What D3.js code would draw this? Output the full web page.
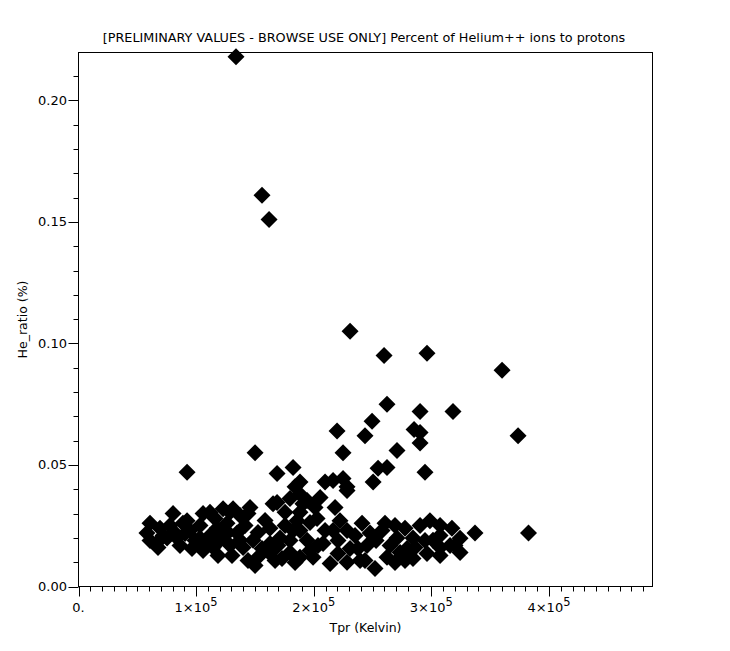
<!DOCTYPE html>
<html>
<head>
<meta charset="utf-8">
<script src="https://cdn.jsdelivr.net/npm/d3@7"></script>
<style>
  html, body { margin: 0; padding: 0; background: #fff; }
  text { font-family: "DejaVu Sans", sans-serif; fill: #000; }
</style>
</head>
<body>
<svg id="chart" width="730" height="651"></svg>
<script>
// Tpr (Kelvin), in thousands of K
const tprK = [
  133.9,156.0,162.0,230.9,259.8,296.3,360.1,373.7,318.4,262.3,
  290.4,249.6,243.6,219.8,285.3,290.4,290.4,270.8,150.1,224.9,
  294.6,92.3,262.3,254.7,250.5,168.8,182.4,188.3,184.1,209.6,
  216.4,224.9,228.3,205.4,194.3,179.8,168.8,145.8,218.1,382.6,
  80.4,60.8,58.2,66.7,75.3,69.3,82.1,67.6,92.3,96.5,
  105.9,105.9,122.9,131.4,144.1,144.1,117.8,114.4,128.8,137.3,
  88.8,94.8,126.3,134.8,148.4,162.8,171.3,182.4,83.8,103.3,
  120.3,139.9,162.8,165.4,152.6,162.8,173.0,179.8,188.3,228.3,
  190.8,202.8,185.8,222.3,241.1,260.6,277.6,228.3,216.4,247.9,
  270.8,284.4,194.3,207.9,230.9,245.3,264.9,279.3,188.3,199.4,
  213.9,228.3,239.4,252.1,262.3,277.6,284.4,298.8,317.5,337.1,
  286.1,296.3,307.4,324.4,315.9,301.4,324.4,307.4,
  103.3,111.8,99.1,116.1,127.1,141.6,152.6,158.6,175.6,169.6,
  179.8,156.0,130.5,118.6,107.6,90.6,77.8,71.9,60.8,86.3,
  137.3,188.3,196.8,209.6,203.6,220.6,235.1,237.6,253.0,258.1,
  269.1,273.4,290.4,294.6,307.4,269.1,243.6,220.6,196.8,184.1,
  167.1,150.1,307.4,320.1,188.3,201.1,175.6,128.8,111.8
];
// He_ratio (%)
const heRatio = [
  0.218,0.161,0.151,0.105,0.095,0.096,0.089,0.062,0.072,0.075,
  0.072,0.068,0.062,0.064,0.0646,0.0634,0.059,0.056,0.055,0.055,
  0.047,0.047,0.049,0.0486,0.043,0.0465,0.049,0.043,0.041,0.043,
  0.0436,0.0444,0.041,0.0366,0.0354,0.0362,0.0346,0.0325,0.0325,0.022,
  0.030,0.026,0.022,0.018,0.020,0.024,0.022,0.016,0.027,0.0156,
  0.0148,0.030,0.032,0.032,0.030,0.0107,0.024,0.016,0.017,0.019,
  0.026,0.023,0.026,0.022,0.019,0.024,0.020,0.023,0.020,0.020,
  0.019,0.016,0.0177,0.034,0.012,0.0136,0.0115,0.014,0.038,0.0395,
  0.034,0.028,0.027,0.027,0.026,0.026,0.024,0.023,0.023,0.022,
  0.020,0.020,0.019,0.0177,0.0156,0.0169,0.0169,0.0156,0.012,0.012,
  0.0095,0.010,0.0107,0.0074,0.012,0.0107,0.0115,0.027,0.024,0.022,
  0.016,0.0136,0.0128,0.014,0.0169,0.019,0.0198,0.016,
  0.0251,0.0210,0.0189,0.0280,0.0222,0.0251,0.0222,0.0272,0.0251,0.0169,
  0.0189,0.0156,0.0128,0.0128,0.0169,0.0218,0.0251,0.0210,0.0189,0.0169,
  0.0292,0.0230,0.0263,0.0230,0.0169,0.0189,0.0210,0.0156,0.0189,0.0230,
  0.0251,0.0140,0.0251,0.0189,0.0210,0.0099,0.0107,0.0136,0.0148,0.0099,
  0.0107,0.0086,0.0251,0.0169,0.0305,0.0325,0.0305,0.0305,0.0305
];
const xTickValues = [0, 100000, 200000, 300000, 400000];
const xTickLabels = ["0.", "1×10|5", "2×10|5", "3×10|5", "4×10|5"];
const yTickValues = [0.00, 0.05, 0.10, 0.15, 0.20];
const yTickLabels = ["0.00", "0.05", "0.10", "0.15", "0.20"];
const titleText = "[PRELIMINARY VALUES - BROWSE USE ONLY] Percent of Helium++ ions to protons";
const xTitle = "Tpr (Kelvin)";
const yTitle = "He_ratio (%)";

(function () {
const svg = d3.select("#chart");
const pL = 78.5, pR = 652.5, pT = 52.5, pB = 586.5;
const x = d3.scaleLinear().domain([0, 488000]).range([pL, pR]);
const y = d3.scaleLinear().domain([0, 0.2197]).range([pB, pT]);

// frame
svg.append("rect").attr("x", pL).attr("y", pT)
  .attr("width", pR - pL).attr("height", pB - pT)
  .attr("fill", "none").attr("stroke", "#000").attr("stroke-width", 1);

// points
const r = 8.5;
const diamond = `M0,${-r}L${r},0L0,${r}L${-r},0Z`;
svg.append("g").selectAll("path")
  .data(tprK.map((t, i) => ({ t: t * 1000, h: heRatio[i] })))
  .join("path")
  .attr("d", diamond)
  .attr("transform", d => `translate(${x(d.t)},${y(d.h)})`)
  .attr("fill", "#000");

// x axis ticks
const xMinor = d3.range(0, 488001, 10000);
const gx = svg.append("g");
gx.selectAll("line").data(xMinor).join("line")
  .attr("x1", d => Math.round(x(d)) + 0.5).attr("x2", d => Math.round(x(d)) + 0.5)
  .attr("y1", pB).attr("y2", d => pB + (d % 100000 === 0 ? 10 : 5))
  .attr("stroke", "#000");
gx.selectAll("text").data(xTickValues).join("text")
  .attr("x", d => x(d)).attr("y", 612)
  .attr("text-anchor", "middle").attr("font-size", 13)
  .each(function(d, i) {
    const parts = xTickLabels[i].split("|");
    const t = d3.select(this);
    t.append("tspan").text(parts[0]);
    if (parts[1]) t.append("tspan").attr("dy", -6).attr("font-size", 11.5).text(parts[1]);
  });
svg.append("text").attr("x", (pL + pR) / 2).attr("y", 632)
  .attr("text-anchor", "middle").attr("font-size", 12.5).text(xTitle);

// y axis ticks
const yMinor = d3.range(0, 0.2195, 0.01);
const gy = svg.append("g");
gy.selectAll("line").data(yMinor).join("line")
  .attr("y1", d => Math.round(y(d)) + 0.5).attr("y2", d => Math.round(y(d)) + 0.5)
  .attr("x1", pL).attr("x2", (d, i) => pL - (i % 5 === 0 ? 10 : 5))
  .attr("stroke", "#000");
gy.selectAll("text").data(yTickValues).join("text")
  .attr("x", 67).attr("y", d => y(d) + 4.5)
  .attr("text-anchor", "end").attr("font-size", 13)
  .text((d, i) => yTickLabels[i]);
svg.append("text")
  .attr("transform", `translate(27,${(pT + pB) / 2}) rotate(-90)`)
  .attr("text-anchor", "middle").attr("font-size", 12.5).text(yTitle);

// title
svg.append("text").attr("x", 364).attr("y", 42)
  .attr("text-anchor", "middle").attr("font-size", 12.8).text(titleText);
})();
</script>
</body>
</html>
